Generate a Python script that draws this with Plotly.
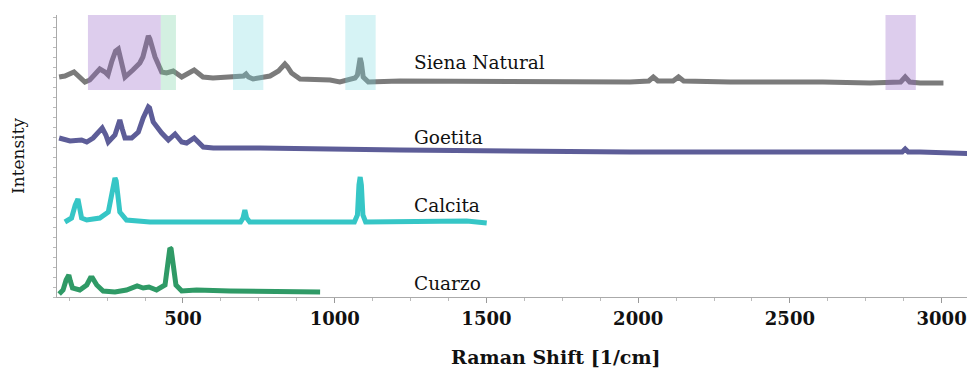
import plotly.graph_objects as go

# ---------------- data ----------------
siena_x = [92, 111, 141, 177, 193, 226, 243, 253, 265, 278, 287, 296, 309, 335, 358, 368, 376, 382, 386, 391, 398,
           408, 430, 446, 468, 496, 537, 566, 599, 655, 700, 708, 716, 731, 787, 815, 828, 836, 845, 858, 886,
           985, 1017, 1050, 1067, 1075, 1080, 1084, 1088, 1094, 1111, 1215, 1973, 2035, 2050, 2065, 2115,
           2133, 2150, 2303, 2609, 2764, 2865, 2880, 2895, 2929, 3006]
siena_y = [220, 221, 225, 215, 217, 228, 225, 222, 235, 246, 248, 238, 220, 227, 234, 240, 249, 257, 261, 258, 249,
           240, 225, 224, 226, 220, 227, 220, 219, 220, 221, 223, 220, 218, 221, 226, 231, 233, 230, 224, 218,
           217, 215, 217, 219, 222, 234, 239, 234, 220, 215, 216, 215, 216, 220, 216, 216,
           220, 216, 215, 215, 214, 215, 220, 215, 214, 214]

goetita_x = [92, 128, 166, 183, 204, 222, 234, 246, 254, 276, 285, 292, 300, 309, 331, 353, 369, 377, 383, 386,
             390, 396, 402, 430, 452, 474, 496, 512, 537, 567, 600, 655, 754, 1215, 1973, 2764, 2870, 2880, 2890,
             2929, 3005, 3150]
goetita_y = [159, 156, 157, 155, 159, 164, 169, 162, 155, 162, 172, 177, 168, 159, 159, 165, 179, 185, 189, 190,
             189, 183, 175, 164, 157, 163, 155, 154, 159, 150, 149, 149, 149, 147, 145, 145, 145, 148, 145,
             145, 144, 143]

calcita_x = [111, 133, 145, 150, 154, 159, 166, 183, 226, 254, 266, 272, 276, 280, 286, 292, 314, 391, 655, 690,
             698, 704, 710, 720, 1065, 1075, 1080, 1084, 1088, 1093, 1102, 1435, 1501]
calcita_y = [75, 79, 92, 98, 98, 90, 79, 77, 79, 85, 105, 115, 119, 116, 102, 85, 77, 75, 75, 75,
             79, 87, 79, 75, 75, 82, 112, 120, 112, 82, 75, 76, 74]

cuarzo_x = [92, 105, 115, 120, 124, 129, 136, 160, 183, 195, 202, 216, 237, 276, 314, 349, 369, 388, 413, 441,
            452, 457, 461, 466, 477, 496, 545, 655, 952]
cuarzo_y = [3, 7, 17, 22, 22, 16, 9, 7, 12, 19, 19, 12, 6, 5, 7, 11, 9, 10, 7, 12,
            35, 49, 48, 33, 12, 6, 7, 6, 5]

series_names = ["Siena Natural", "Goetita", "Calcita", "Cuarzo"]
series_colors = ["#7b7b7b", "#5d5d98", "#36c6c6", "#2f9a66"]
label_y = [235, 160, 92, 14]
label_x = 1255

# highlighted bands
band_x0 = [187, 427, 665, 1035, 2815]
band_x1 = [427, 477, 765, 1135, 2915]
band_colors = ["rgba(150,100,200,0.32)", "rgba(110,205,155,0.30)", "rgba(120,215,222,0.30)",
               "rgba(120,215,222,0.30)", "rgba(150,100,200,0.32)"]
band_y0, band_y1 = 207, 282

x_range = [85, 3110]
y_range = [0, 282]
x_tickvals = [500, 1000, 1500, 2000, 2500, 3000]

# ---------------- figure ----------------
fig = go.Figure()
xs = [siena_x, goetita_x, calcita_x, cuarzo_x]
ys = [siena_y, goetita_y, calcita_y, cuarzo_y]
for name, x, y, c in zip(series_names, xs, ys, series_colors):
    fig.add_trace(go.Scatter(x=x, y=y, mode="lines", name=name,
                             line=dict(color=c, width=5),
                             showlegend=False, hoverinfo="skip"))

for x0, x1, c in zip(band_x0, band_x1, band_colors):
    fig.add_shape(type="rect", x0=x0, x1=x1, y0=band_y0, y1=band_y1, xref="x", yref="y",
                  fillcolor=c, line=dict(width=0), layer="above")

for name, yy in zip(series_names, label_y):
    fig.add_annotation(x=label_x, y=yy, text=name, showarrow=False, xanchor="left", yanchor="middle",
                       font=dict(family="DejaVu Serif", size=18.5, color="#111"))

# axis titles placed as annotations (the original plot area extends past the crop)
fig.add_annotation(x=0.5436, y=-0.2128, xref="paper", yref="paper", text="<b>Raman Shift [1/cm]</b>",
                   showarrow=False, xanchor="center", yanchor="middle",
                   font=dict(family="DejaVu Serif", size=19, color="#111"))
fig.add_annotation(x=-0.0425, y=0.5, xref="paper", yref="paper", text="Intensity", textangle=-90,
                   showarrow=False, xanchor="center", yanchor="middle",
                   font=dict(family="DejaVu Serif", size=17, color="#111"))

# the page body adds an 8px offset, so the figure is 8px smaller and margins shifted
fig.update_layout(
    width=967, height=366,
    margin=dict(l=49, r=0, t=7, b=77),
    paper_bgcolor="white", plot_bgcolor="white",
    font=dict(family="DejaVu Serif", color="#111"),
)
fig.update_xaxes(range=x_range, tickvals=x_tickvals, ticks="outside", ticklen=5, tickcolor="#999",
                 showline=True, linecolor="#aaa", linewidth=1, showgrid=False, zeroline=False, automargin=False,
                 tickfont=dict(family="DejaVu Serif", size=18, weight="bold", color="#111"),
                 minor=dict(dtick=125, tick0=0, ticks="outside", ticklen=3, tickcolor="#bbb", showgrid=False))
fig.update_yaxes(range=y_range, showticklabels=False, ticks="outside", ticklen=3, tickcolor="#bbb",
                 dtick=10, tick0=0, showline=True, linecolor="#aaa", linewidth=1, showgrid=False, zeroline=False,
                 automargin=False)

fig.write_html("out.html")
